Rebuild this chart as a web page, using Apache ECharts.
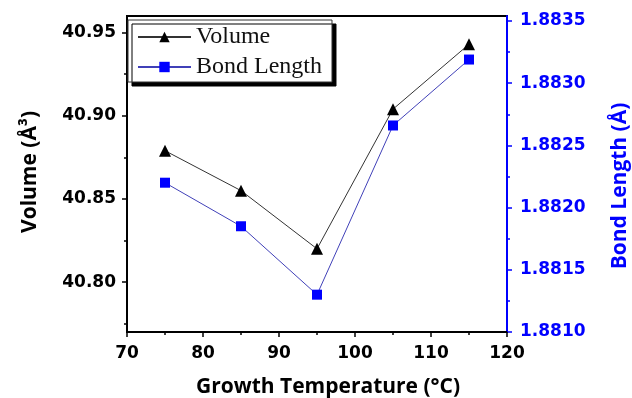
<!DOCTYPE html>
<html>
<head>
<meta charset="utf-8">
<script src="https://cdn.jsdelivr.net/npm/echarts@6/dist/echarts.min.js"></script>
<style>
    html, body {margin: 0; padding: 0; background: #fff;}
    #main {width: 632px; height: 398px;}
</style>
</head>
<body>
<div id="main"></div>
<script>
let temps = [75, 85, 95, 105, 115];
let volume = [40.879, 40.855, 40.820, 40.904, 40.943];
let bondLength = [1.88220, 1.88185, 1.88130, 1.88266, 1.88319];

let volumeTicks = [40.80, 40.85, 40.90, 40.95];
let volumeMinor = [40.775, 40.825, 40.875, 40.925];
let bondTicks = [1.8810, 1.8815, 1.8820, 1.8825, 1.8830, 1.8835];
let bondMinor = [1.88125, 1.88175, 1.88225, 1.88275, 1.88325];

let myChart = echarts.init(document.getElementById('main'));

let tickFont = {fontFamily: 'DejaVu Sans', fontWeight: 'bold', fontSize: 17};
let titleFont = 'bold 21px "Open Sans"';

let minorAxis = (pos, min, max, values, color) => {  // 只画小刻度
    return {
        type: 'value', position: pos, min: min, max: max,
        axisLine: {show: false},
        axisLabel: {show: false},
        splitLine: {show: false},
        axisTick: {length: 3, customValues: values, lineStyle: {color: color, width: 1.5}}
    }
};

let option = {
    animation: false,
    grid: {show: true, left: 127, right: 125, top: 16, bottom: 66, borderColor: '#000', borderWidth: 2},
    legend: {
        data: ['Volume', 'Bond Length'],
        orient: 'vertical',
        left: 128, top: 20,
        selectedMode: false,
        itemWidth: 53, itemHeight: 13, itemGap: 6,
        padding: [5, 10, 3, 9],
        backgroundColor: '#fff',
        borderColor: '#333', borderWidth: 1,
        shadowColor: '#000', shadowBlur: 0, shadowOffsetX: 4, shadowOffsetY: 4,
        textStyle: {fontFamily: 'Liberation Serif', fontSize: 24, color: '#111'}
    },
    xAxis: {
        type: 'value', min: 70, max: 120, interval: 10,
        axisLine: {lineStyle: {color: '#000', width: 2}},
        axisTick: {length: 5, lineStyle: {width: 1.5}},
        minorTick: {show: true, splitNumber: 2, length: 3, lineStyle: {color: '#000', width: 1.5}},
        splitLine: {show: false},
        axisLabel: Object.assign({color: '#000', margin: 13}, tickFont)
    },
    yAxis: [{
        type: 'value', position: 'left', min: 40.77, max: 40.96,
        axisLine: {show: true, lineStyle: {color: '#000', width: 2}},
        axisTick: {length: 5, customValues: volumeTicks, lineStyle: {width: 1.5}},
        splitLine: {show: false},
        axisLabel: Object.assign({
            color: '#000', margin: 11, customValues: volumeTicks,
            formatter: (v) => v.toFixed(2)
        }, tickFont)
    }, {
        type: 'value', position: 'right', min: 1.881, max: 1.88354,
        axisLine: {show: true, lineStyle: {color: '#0000ff', width: 2}},
        axisTick: {length: 5, customValues: bondTicks, lineStyle: {width: 1.5}},
        splitLine: {show: false},
        axisLabel: Object.assign({
            color: '#0000ff', margin: 13, customValues: bondTicks,
            formatter: (v) => v.toFixed(4)
        }, tickFont)
    },
        minorAxis('left', 40.77, 40.96, volumeMinor, '#000'),
        minorAxis('right', 1.881, 1.88354, bondMinor, '#0000ff')
    ],
    series: [{
        name: 'Volume',
        type: 'line',
        yAxisIndex: 0,
        symbol: 'triangle',
        symbolSize: 12,
        itemStyle: {color: '#000'},
        lineStyle: {color: '#333', width: 1},
        data: temps.map((t, i) => [t, volume[i]])
    }, {
        name: 'Bond Length',
        type: 'line',
        yAxisIndex: 1,
        symbol: 'rect',
        symbolSize: 10,
        itemStyle: {color: '#0000ff'},
        lineStyle: {color: '#4040b8', width: 1},
        data: temps.map((t, i) => [t, bondLength[i]])
    }],
    graphic: [{
        type: 'text', x: 30, y: 172, rotation: Math.PI / 2,
        style: {text: 'Volume (Å³)', font: titleFont, fill: '#000', align: 'center', verticalAlign: 'middle'}
    }, {
        type: 'text', x: 620, y: 186, rotation: Math.PI / 2,
        style: {text: 'Bond Length (Å)', font: titleFont, fill: '#0000ff', align: 'center', verticalAlign: 'middle'}
    }, {
        type: 'text', x: 328, y: 387,
        style: {text: 'Growth Temperature (°C)', font: titleFont, fill: '#000', align: 'center', verticalAlign: 'middle'}
    }]
};

myChart.setOption(option);
</script>
</body>
</html>
